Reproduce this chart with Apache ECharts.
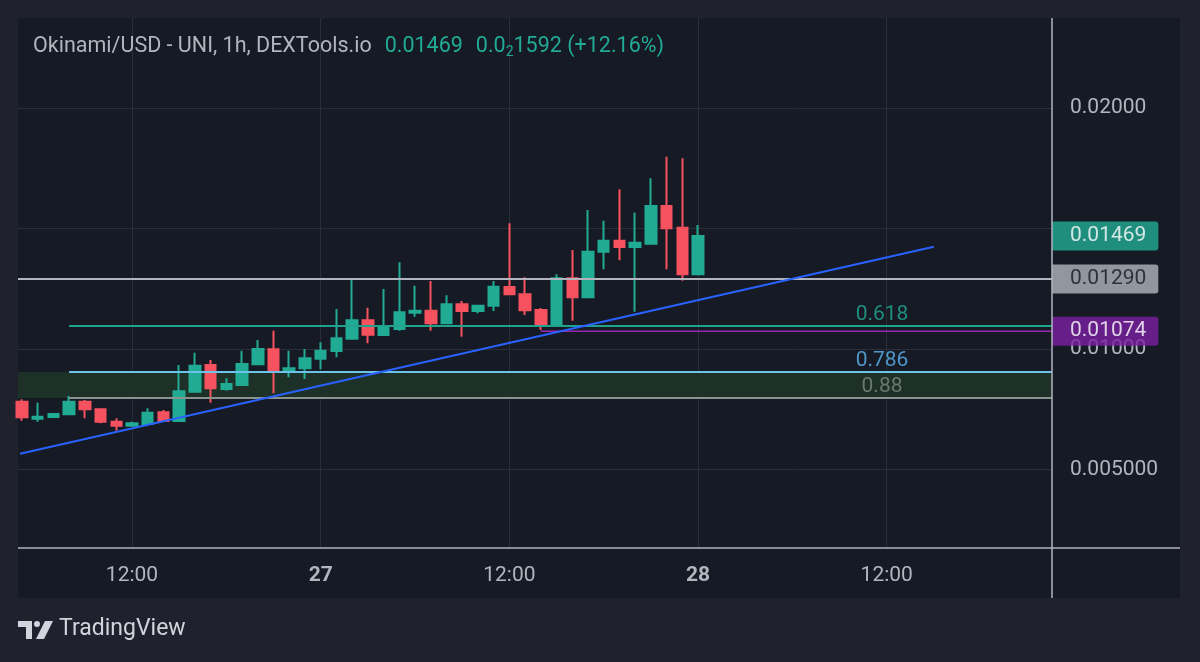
<!DOCTYPE html>
<html>
<head>
<meta charset="utf-8">
<script src="https://cdn.jsdelivr.net/npm/echarts@6/dist/echarts.min.js"></script>
<style>
html, body { margin: 0; padding: 0; background: #1f222d; }
#main { width: 1200px; height: 662px; }
</style>
</head>
<body>
<div id="main"></div>
<script>
// hour index counted from 26 00:00
var hours = [5, 6, 7, 8, 9, 10, 11, 12, 13, 14, 15, 16, 17, 18, 19, 20, 21, 22, 23, 24, 25, 26,
	27, 28, 29, 30, 31, 32, 33, 34, 35, 36, 37, 38, 39, 40, 41, 42, 43, 44, 45, 46, 47, 48];
var opens = [0.007813, 0.007108, 0.007178, 0.00729, 0.007813, 0.007498, 0.006983, 0.006817, 0.006888, 0.007373, 0.007012,
	0.008228, 0.009336, 0.00834, 0.008506, 0.009365, 0.009988, 0.009116, 0.009199, 0.009598, 0.009917, 0.010427,
	0.011191, 0.010581, 0.01083, 0.011506, 0.011589, 0.011066, 0.011855, 0.011577, 0.011797, 0.012573, 0.01227,
	0.011618, 0.011037, 0.012934, 0.012145, 0.014037, 0.014494, 0.014232, 0.014369, 0.015934, 0.015033, 0.013098];
var highs = [0.007913, 0.007772, 0.007324, 0.00805, 0.007884, 0.007539, 0.007124, 0.006983, 0.007539, 0.007469, 0.009336,
	0.009846, 0.009544, 0.008784, 0.009929, 0.010373, 0.010759, 0.009929, 0.01, 0.010278, 0.01166, 0.012905,
	0.011714, 0.01249, 0.013598, 0.012627, 0.012822, 0.012228, 0.011992, 0.011805, 0.012822, 0.015216, 0.012975,
	0.011701, 0.0131, 0.014108, 0.015768, 0.015324, 0.016627, 0.015664, 0.017083, 0.017979, 0.017913, 0.015145];
var lows = [0.007025, 0.006983, 0.007158, 0.007282, 0.007124, 0.006917, 0.00661, 0.006776, 0.006867, 0.006983, 0.006992,
	0.008187, 0.007772, 0.00827, 0.008477, 0.009357, 0.008162, 0.008826, 0.008755, 0.009158, 0.009656, 0.010415,
	0.010237, 0.01056, 0.010759, 0.01134, 0.010759, 0.011058, 0.01051, 0.011481, 0.011577, 0.012261, 0.011411,
	0.010788, 0.010925, 0.011174, 0.012137, 0.013307, 0.01368, 0.011548, 0.014357, 0.013307, 0.012834, 0.013071];
var closes = [0.007166, 0.007191, 0.007303, 0.007813, 0.007498, 0.006983, 0.006817, 0.006917, 0.007357, 0.007012, 0.008245,
	0.009307, 0.008369, 0.008548, 0.009378, 0.01, 0.0091, 0.009199, 0.009614, 0.009929, 0.010444, 0.011191,
	0.010593, 0.010925, 0.011523, 0.011589, 0.011066, 0.011855, 0.011577, 0.011797, 0.012585, 0.01227, 0.011606,
	0.011037, 0.012934, 0.012145, 0.014037, 0.014494, 0.014232, 0.014411, 0.015934, 0.015008, 0.013098, 0.01469];

var timeTicks = [12, 24, 36, 48, 60];
var priceTicks = [0.005, 0.01, 0.015, 0.02];
var priceLabels = [0.005, 0.01, 0.02];

var fibNames = ['0.618', '0.786', '0.88'];
var fibValues = [0.010954, 0.009046, 0.007967];
var fibStart = 8;
var fibLabelAt = 59.7;

var lastPrice = 0.01469;
var grayLevel = 0.0129;
var purpleLevel = 0.01074;
var purpleStart = 38;
var tagValues = [grayLevel, lastPrice, purpleLevel];
var trendX = [4.88, 62.99];
var trendY = [0.005656, 0.014241];

var xMin = 4.75, xMax = 70.51;
var yMin = 0.001743, yMax = 0.023734;

var up = '#22ab94', down = '#f7525f';
var fibColors = ['#22ab94', '#5fb4f0', '#7d8b84'];
var fibLineColors = ['#1fa38c', '#6cc3e8', '#8a948f'];
var tagBg = ['#b2b5be', '#22ab94', '#7b1fa2'];
var tagFg = ['#131722', '#ffffff', '#ffffff'];
var font = 'Roboto, "Noto Sans", sans-serif';

var candles = [];
for (var i = 0; i < hours.length; i++) {
	candles.push([hours[i], opens[i], closes[i], lows[i], highs[i]]);
}

function levelLine(x0, v, color, width) {
	return {
		type: 'line',
		z: 3,
		silent: true,
		symbol: 'none',
		data: [[x0, v], [xMax, v]],
		lineStyle: { color: color, width: width }
	};
}

var fibSeries = fibValues.map(function (v, i) {
	return levelLine(fibStart, v, fibLineColors[i], 2);
});
// green zone between 0.786 and 0.88
fibSeries[1].markArea = {
	silent: true,
	itemStyle: { color: '#1e3129' },
	data: [[{ yAxis: fibValues[1] }, { yAxis: fibValues[2] }]]
};

var option = {
	backgroundColor: '#1f222d',
	animation: false,
	title: {
		left: 33,
		top: 35,
		padding: 0,
		text: '{a|Okinami/USD - UNI, 1h, DEXTools.io}{p|0.01469}{p|0.0}{s|2}{b|1592 (+12.16%)}',
		textStyle: {
			fontWeight: 'normal',
			rich: {
				a: { color: '#b2b5be', fontSize: 21.5, fontWeight: 'normal', fontFamily: font, lineHeight: 24 },
				p: { color: up, fontSize: 21.5, fontWeight: 'normal', fontFamily: font, lineHeight: 24, padding: [0, 0, 0, 13] },
				b: { color: up, fontSize: 21.5, fontWeight: 'normal', fontFamily: font, lineHeight: 24 },
				s: { color: up, fontSize: 14, fontWeight: 'normal', fontFamily: font, lineHeight: 14, verticalAlign: 'bottom' }
			}
		}
	},
	grid: { left: 18, right: 148, top: 18, bottom: 114 },
	xAxis: {
		type: 'value',
		min: xMin,
		max: xMax,
		axisLine: { show: false },
		axisTick: { show: false, customValues: timeTicks },
		axisLabel: {
			customValues: timeTicks,
			margin: 17,
			color: '#b2b5be',
			fontSize: 21,
			fontFamily: font,
			formatter: function (v) {
				if (v % 24 === 0) return '{d|' + (26 + v / 24) + '}';
				return '12:00';
			},
			rich: {
				d: { color: '#b2b5be', fontSize: 21, fontFamily: font, fontWeight: 'bold' }
			}
		},
		splitLine: { show: true, lineStyle: { color: '#2a2e39', width: 1 } }
	},
	yAxis: {
		type: 'value',
		position: 'right',
		min: yMin,
		max: yMax,
		axisLine: { show: false },
		axisTick: { show: false, customValues: priceTicks },
		axisLabel: {
			customValues: priceLabels,
			margin: 18,
			padding: [5, 0, 0, 0],
			color: '#b2b5be',
			fontSize: 21,
			fontFamily: font,
			formatter: function (v) {
				return v === 0.005 ? '0.005000' : v.toFixed(5);
			}
		},
		splitLine: { show: true, lineStyle: { color: '#2a2e39', width: 1 } }
	},
	series: [
		{
			type: 'candlestick',
			z: 2,
			data: candles,
			encode: { x: 0, y: [1, 2, 3, 4] },
			barWidth: 11,
			itemStyle: {
				color: up,
				color0: down,
				borderColor: up,
				borderColor0: down,
				borderWidth: 2
			}
		}
	].concat(fibSeries).concat([
		levelLine(xMin, grayLevel, '#b2b5be', 2),
		levelLine(purpleStart, purpleLevel, '#9c27b0', 1.5),
		{
			type: 'line',
			z: 3,
			silent: true,
			symbol: 'none',
			data: [[trendX[0], trendY[0]], [trendX[1], trendY[1]]],
			lineStyle: { color: '#2962ff', width: 2 }
		},
		{
			type: 'scatter',
			z: 4,
			silent: true,
			symbolSize: 0,
			data: fibValues.map(function (v, i) {
				return {
					value: [fibLabelAt, v],
					label: { color: fibColors[i], formatter: fibNames[i] }
				};
			}),
			label: { show: true, position: 'top', distance: 1, fontSize: 21, fontFamily: font }
		},
		{
			// price tags on the right scale
			type: 'scatter',
			z: 6,
			silent: true,
			clip: false,
			symbolSize: 0,
			data: tagValues.map(function (v, i) {
				return {
					value: [xMax, v],
					label: { color: tagFg[i], backgroundColor: tagBg[i], formatter: v.toFixed(5) }
				};
			}),
			label: {
				show: true,
				position: 'right',
				distance: 0,
				fontSize: 21,
				fontFamily: font,
				padding: [4, 12, 4, 18],
				borderRadius: [0, 3, 3, 0]
			}
		}
	]),
	graphic: [
		{ type: 'rect', z: -10, silent: true, shape: { x: 18, y: 18, width: 1162, height: 580 }, style: { fill: '#161a25' } },
		{ type: 'line', z: 10, silent: true, shape: { x1: 1052, y1: 18, x2: 1052, y2: 598 }, style: { stroke: '#b2b5be', lineWidth: 1.5 } },
		{ type: 'line', z: 10, silent: true, shape: { x1: 18, y1: 548, x2: 1180, y2: 548 }, style: { stroke: '#b2b5be', lineWidth: 1.5 } },
		// TradingView logo
		{ type: 'polygon', silent: true, shape: { points: [[18, 621], [32, 621], [32, 639], [26, 639], [26, 627], [18, 627]] }, style: { fill: '#d1d4dc' } },
		{ type: 'circle', silent: true, shape: { cx: 37, cy: 624, r: 3 }, style: { fill: '#d1d4dc' } },
		{ type: 'polygon', silent: true, shape: { points: [[45, 621], [53, 621], [44, 639], [36, 639]] }, style: { fill: '#d1d4dc' } },
		{ type: 'text', silent: true, left: 59, top: 618, style: { text: 'TradingView', fill: '#d1d4dc', fontSize: 23, fontFamily: font } }
	]
};

var dom = document.getElementById('main');
var myChart = echarts.init(dom);
if (option && typeof option === 'object') {
	myChart.setOption(option, true);
}
</script>
</body>
</html>
